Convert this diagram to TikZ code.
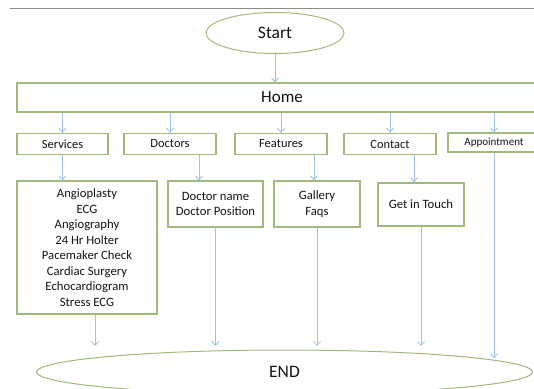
\documentclass[tikz,border=0pt]{standalone}
\usepackage{fontspec}
\setmainfont{Carlito}
\usepackage{xcolor}
\usetikzlibrary{positioning,arrows.meta,shapes.geometric}
\definecolor{boxgreen}{RGB}{160,186,124}
\definecolor{arrowblue}{RGB}{160,195,228}
\definecolor{textgray}{RGB}{20,20,20}

\begin{document}
\begin{tikzpicture}[x=1pt, y=-1pt,
  term/.style={draw=boxgreen, line width=1pt, ellipse, text=textgray, inner sep=0pt, font=\fontsize{17.5}{20}\selectfont},
  menu/.style={draw=boxgreen, line width=1.2pt, text=textgray, minimum width=92pt, minimum height=21pt, inner sep=1pt, font=\fontsize{12.5}{15}\selectfont},
  detail/.style={draw=boxgreen, line width=1.2pt, text=textgray, align=center, inner sep=2pt, font=\fontsize{12.7}{15.5}\selectfont},
  flow/.style={draw=arrowblue, line width=0.9pt, -{Straight Barb[length=4pt,width=7pt]}}]
\useasboundingbox (0,0) rectangle (534,388);
\clip (0,0) rectangle (534,388);
\draw[black!45, line width=0.8pt] (10,8) -- (534,8);
\node[term, minimum width=138pt, minimum height=41pt] (start) at (275,33) {Start};
\node[menu, minimum width=530pt, minimum height=29pt, font=\fontsize{17}{20}\selectfont] (home) at (282,97.5) {Home};
\node[menu, minimum width=91pt] (services) at (62.5,144) {Services};
\node[menu] (doctors) at (170,144) {Doctors};
\node[menu] (features) at (281,144) {Features};
\node[menu] (contact) at (390,144) {Contact};
\node[menu, font=\fontsize{11}{13}\selectfont, minimum height=19pt] (appt) at (494,142.5) {Appointment};
\node[detail, minimum width=140pt, minimum height=133pt] (svcd) at (87,247.5) {Angioplasty\\ECG\\Angiography\\24 Hr Holter\\Pacemaker Check\\Cardiac Surgery\\Echocardiogram\\Stress ECG};
\node[detail, minimum width=95pt, minimum height=46pt] (docd) at (215.5,204) {Doctor name\\Doctor Position};
\node[detail, minimum width=86pt, minimum height=46pt] (featd) at (317,204) {Gallery\\Faqs};
\node[detail, minimum width=86pt, minimum height=43pt] (contd) at (421,204.5) {Get in Touch};
\node[term, minimum width=496pt, minimum height=44pt] (end) at (284.5,372) {END};
\coordinate (endtop) at (0,346);
\draw[flow] (start) -- (start |- home.north);
\draw[flow] (services |- home.south) -- (services);
\draw[flow] (doctors |- home.south) -- (doctors);
\draw[flow] (features |- home.south) -- (features);
\draw[flow] (contact |- home.south) -- (contact);
\draw[flow] (appt |- home.south) -- (appt);
\draw[flow] (services.south) -- (services.south |- svcd.north);
\draw[flow] ([xshift=29pt]doctors.south) -- ([xshift=29pt]doctors.south |- docd.north);
\draw[flow] ([xshift=33pt]features.south) -- ([xshift=33pt]features.south |- featd.north);
\draw[flow] ([xshift=24pt]contact.south) -- ([xshift=24pt]contact.south |- contd.north);
\draw[flow] ([xshift=8pt]svcd.south) -- ([xshift=8pt]svcd.south |- endtop);
\draw[flow] (docd.south) -- (docd.south |- endtop);
\draw[flow] (featd.south) -- (featd.south |- endtop);
\draw[flow] (contd.south) -- (contd.south |- endtop);
\draw[flow] (appt.south) -- (appt.south |- end.4);
\end{tikzpicture}
\end{document}
